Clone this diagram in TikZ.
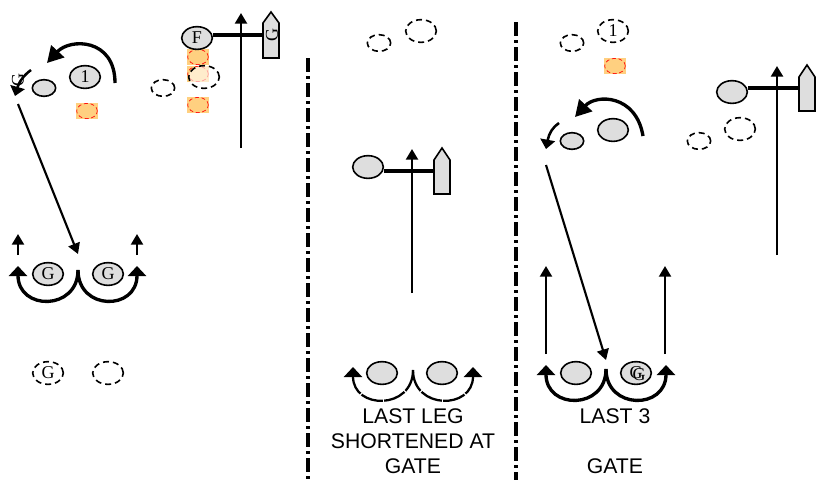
\documentclass[tikz,border=0pt]{standalone}
\usepackage{fontspec}
\setmainfont{Liberation Serif}
\newfontfamily\labelfont{Liberation Sans}
\usetikzlibrary{arrows.meta,shapes.geometric}
\definecolor{zoneorange}{RGB}{255,208,128}

\begin{document}
\begin{tikzpicture}[
          x=0.75pt, y=-0.75pt,
          buoy/.style={ellipse, draw, line width=1.2pt, fill=black!13, inner sep=0pt, minimum width=23pt, minimum height=17pt, font=\fontsize{13.5}{14}\selectfont},
          smallbuoy/.style={buoy, minimum width=17.5pt, minimum height=12.5pt},
          ghost/.style={buoy, fill=none, dash pattern=on 4.5pt off 3pt},
          smallghost/.style={ghost, minimum width=17.5pt, minimum height=12.5pt},
          zone/.style={rectangle, fill=zoneorange, inner sep=0pt, minimum width=16pt, minimum height=12pt},
          zonering/.style={ellipse, draw=red, fill=none, line width=0.5pt, densely dashed, inner sep=0pt, minimum width=15.5pt, minimum height=11.5pt},
          boat/.style={draw, line width=1.2pt, fill=black!13},
          leg/.style={line width=1.6pt, -{Triangle[length=8pt, width=9pt]}},
          rounding/.style={line width=2.5pt, -{Triangle[length=7.5pt, width=13.5pt]}},
          bigrounding/.style={line width=2.5pt, -{Triangle[length=12pt, width=13pt]}},
          smallrounding/.style={line width=1.9pt, -{Triangle[length=7pt, width=11pt]}},
          pole/.style={line width=2.6pt},
          divider/.style={line width=2.4pt, dash pattern=on 10.5pt off 3pt on 2.25pt off 3pt},
          caption/.style={font=\labelfont\fontsize{15.9}{18.75}\selectfont, align=center, inner sep=0pt},
          boatletter/.style={font=\fontsize{13.5}{14}\selectfont, rotate=90, inner sep=0pt}
        ]
        \useasboundingbox (0,0) rectangle (817,480);

        % first course
        \node[smallbuoy] (a2) at (44,88) {};
        \node[buoy] (a1) at (85,77) {1};
        \node[zone] (az) at (87,111) {};
        \node[zonering] (azr) at (87,111) {};
        \coordinate (aturn) at (115,83);
        \coordinate (atip) at (47,63);
        \draw[bigrounding] (aturn) .. controls (115,38) and (70,38) .. (atip);
        \coordinate (asmall) at (31,70);
        \coordinate (asmalltip) at (15,96);
        \draw[smallrounding] (asmall) .. controls (24,75) and (19,82) .. (asmalltip);
        \node[boatletter] (ag) at (18,80) {G};

        \node[zone] (fz1) at (198,57) {};
        \node[zone] (fz2) at (198,74) {};
        \node[zone] (fz3) at (198,105) {};
        \node[zonering] (fr1) at (198,57) {};
        \node[zonering] (fr2) at (198,74) {};
        \node[zonering] (fr3) at (198,105) {};
        \node[ghost, fill=white, fill opacity=0.6] (ag1) at (204,77) {};
        \node[smallghost] (ag2) at (163,88) {};
        \node[buoy] (af) at (197,38) {F};
        \coordinate (aboat) at (263,35);
        \draw[pole] (af.east |- aboat) -- (aboat);
        \draw[boat] (263,58) -- (263,23) -- (271,12) -- (279,23) -- (279,58) -- cycle;
        \node[boatletter] (afg) at (272,35) {G};
        \coordinate (aup) at (241,148);
        \coordinate (auptip) at (241,13);
        \draw[leg, line width=1.8pt] (aup) -- (auptip);

        \node[buoy] (ag3) at (48,274) {G};
        \node[buoy] (ag4) at (108,274) {G};
        \coordinate (ajoin) at (78,270);
        \coordinate (aleft) at (18,266);
        \coordinate (aright) at (137,266);
        \draw[rounding] (ajoin) .. controls (78,311) and (18,311) .. (aleft);
        \draw[rounding] (ajoin) .. controls (78,311) and (137,311) .. (aright);
        \coordinate (ar1) at (18,255);
        \coordinate (ar1t) at (18,234);
        \coordinate (ar2) at (137,255);
        \coordinate (ar2t) at (137,234);
        \draw[leg] (ar1) -- (ar1t);
        \draw[leg] (ar2) -- (ar2t);
        \coordinate (along) at (18,104);
        \coordinate (alongt) at (78,254);
        \draw[leg] (along) -- (alongt);
        \node[ghost] (ag5) at (48,373) {G};
        \node[ghost] (ag6) at (108,373) {};

        % second course
        \coordinate (d1a) at (308,58);
        \coordinate (d1b) at (308,480);
        \draw[divider] (d1a) -- (d1b);
        \node[smallghost] (b1) at (379,43) {};
        \node[ghost] (b2) at (421,31) {};
        \node[buoy] (bf) at (368,167) {};
        \coordinate (bboat) at (434,171);
        \draw[pole] (bf.east |- bboat) -- (bboat);
        \draw[boat] (434,194) -- (434,160) -- (442,148) -- (450,160) -- (450,194) -- cycle;
        \coordinate (bup) at (412,293);
        \coordinate (buptip) at (412,149);
        \draw[leg, line width=1.8pt] (bup) -- (buptip);
        \node[buoy] (bg1) at (382,373) {};
        \node[buoy] (bg2) at (442,373) {};
        \coordinate (bjoin) at (413,370);
        \coordinate (bleft) at (353,367);
        \coordinate (bright) at (473,367);
        \draw[rounding, line width=1.7pt, dash pattern=on 17pt off 1pt] (bjoin) .. controls (413,410) and (353,410) .. (bleft);
        \draw[rounding, line width=1.7pt, dash pattern=on 17pt off 1pt] (bjoin) .. controls (413,410) and (473,410) .. (bright);
        \node[caption] (bcap) at (413,441) {LAST LEG\\SHORTENED AT\\GATE};

        % third course
        \coordinate (d2a) at (516,22);
        \coordinate (d2b) at (516,480);
        \draw[divider] (d2a) -- (d2b);
        \node[smallghost] (c1) at (572,43) {};
        \node[ghost] (c2) at (613,31) {1};
        \node[zone] (cz) at (615,66) {};
        \node[zonering] (czr) at (615,66) {};
        \node[smallbuoy] (c3) at (572,141) {};
        \node[buoy] (c4) at (613,130) {};
        \coordinate (cturn) at (643,136);
        \coordinate (ctip) at (575,117);
        \draw[bigrounding] (cturn) .. controls (636,94) and (596,94) .. (ctip);
        \coordinate (csmall) at (559,123);
        \coordinate (csmalltip) at (546,149);
        \draw[smallrounding] (csmall) .. controls (553,127) and (549,133) .. (csmalltip);
        \coordinate (clong) at (546,165);
        \coordinate (clongt) at (606,360);
        \draw[leg] (clong) -- (clongt);
        \node[buoy] (cg1) at (576,373) {};
        \node[buoy] (cg2) at (636,373) {G};
        \node[font=\fontsize{13.5}{14}\selectfont, inner sep=0pt] (cg3) at (639,375) {G};
        \coordinate (cjoin) at (606,369);
        \coordinate (cleft) at (546,365);
        \coordinate (cright) at (666,365);
        \draw[rounding] (cjoin) .. controls (606,410) and (546,410) .. (cleft);
        \draw[rounding] (cjoin) .. controls (606,410) and (666,410) .. (cright);
        \coordinate (cr1) at (546,354);
        \coordinate (cr1t) at (546,266);
        \coordinate (cr2) at (665,354);
        \coordinate (cr2t) at (665,266);
        \draw[leg] (cr1) -- (cr1t);
        \draw[leg] (cr2) -- (cr2t);
        \node[caption] (ccap) at (615,441) {LAST 3\\ \\GATE};

        \node[smallghost] (c5) at (699,141) {};
        \node[ghost] (c6) at (740,129) {};
        \node[buoy] (cf) at (732,92) {};
        \coordinate (cboat) at (799,88);
        \draw[pole] (cf.east |- cboat) -- (cboat);
        \draw[boat] (799,111) -- (799,77) -- (807,65) -- (815,77) -- (815,111) -- cycle;
        \coordinate (cup) at (777,255);
        \coordinate (cuptip) at (777,66);
        \draw[leg, line width=1.8pt] (cup) -- (cuptip);

        \end{tikzpicture}
\end{document}
